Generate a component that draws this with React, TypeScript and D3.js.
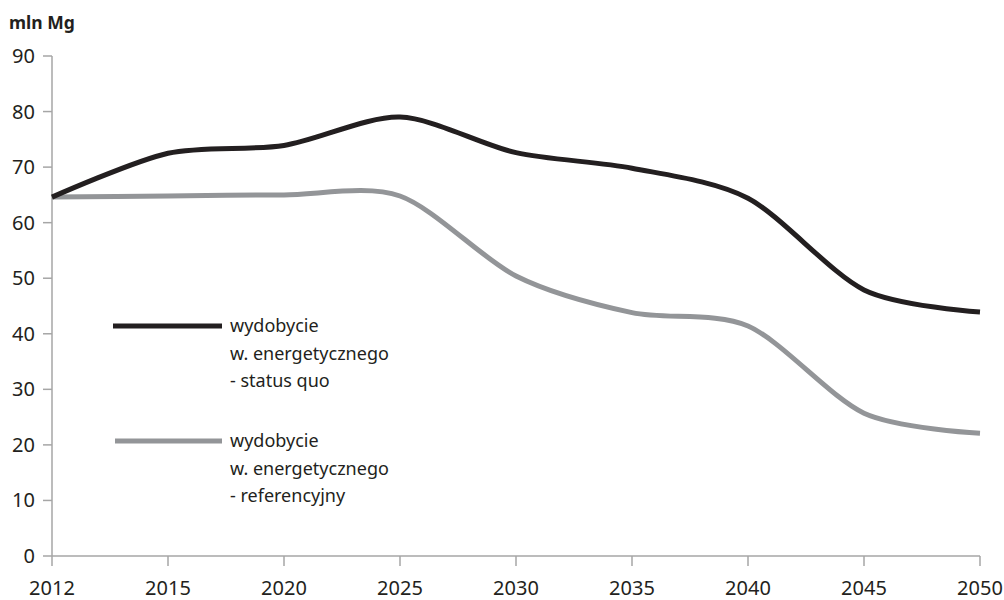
import React from "react";
import * as d3 from "d3";

const years = ["2012", "2015", "2020", "2025", "2030", "2035", "2040", "2045", "2050"];
const statusQuo = [64.6, 72.5, 73.9, 79.0, 72.6, 69.8, 64.4, 47.9, 43.9];
const referencyjny = [64.6, 64.8, 65.0, 64.8, 50.4, 43.8, 41.4, 25.7, 22.1];
const yTicks = [0, 10, 20, 30, 40, 50, 60, 70, 80, 90];
const legendSQ = ["wydobycie", "w. energetycznego", "- status quo"];
const legendRef = ["wydobycie", "w. energetycznego", "- referencyjny"];

const W = 1004, H = 600;
const FONT = "'Noto Sans', 'Open Sans', sans-serif";

export default function App() {
  const x = d3.scalePoint<string>().domain(years).range([52, 980]);
  const y = d3.scaleLinear().domain([0, 90]).range([556, 56]);
  const line = d3
    .line<number>()
    .x((_, i) => x(years[i]) as number)
    .y((d) => y(d))
    .curve(d3.curveCardinal.tension(0.15));

  const axisColor = "#a6a6a6";
  const textColor = "#231f20";

  const legendItem = (
    color: string,
    lines: string[],
    yc: number,
    x1: number
  ) => (
    <g>
      <line x1={x1} x2={222} y1={yc} y2={yc} stroke={color} strokeWidth={5} />
      {lines.map((t, i) => (
        <text
          key={i}
          x={230}
          y={yc + i * 27.5}
          dy="0.35em"
          fontSize={18}
          fill={textColor}
          fontFamily={FONT}
        >
          {t}
        </text>
      ))}
    </g>
  );

  return (
    <svg
      width={W}
      height={H}
      style={{ position: "absolute", left: 0, top: 0, background: "#fff" }}
    >
      <text x={9} y={29} fontSize={17.5} fontWeight="bold" fill={textColor} fontFamily={FONT}>
        mln Mg
      </text>
      {/* y axis */}
      <line x1={52} x2={52} y1={y(90)} y2={y(0)} stroke={axisColor} strokeWidth={1.5} />
      {yTicks.map((t) => (
        <g key={t}>
          <line x1={43} x2={52} y1={y(t)} y2={y(t)} stroke={axisColor} strokeWidth={1.5} />
          <text
            x={35}
            y={y(t)}
            dy="0.35em"
            textAnchor="end"
            fontSize={20}
            fill={textColor}
            fontFamily={FONT}
          >
            {t}
          </text>
        </g>
      ))}
      {/* x axis */}
      <line x1={52} x2={980} y1={y(0)} y2={y(0)} stroke={axisColor} strokeWidth={1.5} />
      {years.map((yr) => (
        <g key={yr}>
          <line
            x1={x(yr) as number}
            x2={x(yr) as number}
            y1={y(0)}
            y2={y(0) + 10}
            stroke={axisColor}
            strokeWidth={1.5}
          />
          <text
            x={x(yr) as number}
            y={595}
            textAnchor="middle"
            fontSize={20}
            fill={textColor}
            fontFamily={FONT}
          >
            {yr}
          </text>
        </g>
      ))}
      <path d={line(referencyjny) || ""} fill="none" stroke="#939598" strokeWidth={5} />
      <path d={line(statusQuo) || ""} fill="none" stroke="#231f20" strokeWidth={5} />
      {legendItem("#231f20", legendSQ, 326, 113)}
      {legendItem("#939598", legendRef, 441, 115)}
    </svg>
  );
}
